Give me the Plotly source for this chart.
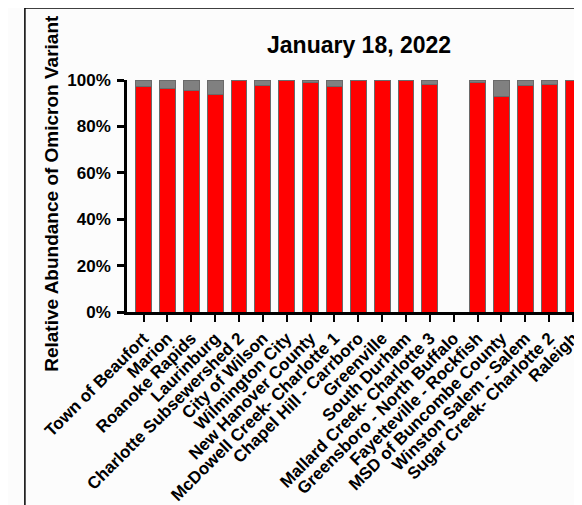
import plotly.graph_objects as go

sites = [
    "Town of Beaufort", "Marion", "Roanoke Rapids", "Laurinburg",
    "Charlotte Subsewershed 2", "City of Wilson", "Wilmington City",
    "New Hanover County", "McDowell Creek- Charlotte 1", "Chapel Hill - Carrboro",
    "Greenville", "South Durham", "Mallard Creek- Charlotte 3",
    "Greensboro - North Buffalo", "Fayetteville - Rockfish", "MSD of Buncombe County",
    "Winston Salem - Salem", "Sugar Creek- Charlotte 2", "Raleigh",
]
omicron = [97.0, 96.3, 95.5, 93.7, 100.0, 97.8, 100.0, 98.9, 97.0, 100.0,
           100.0, 100.0, 98.2, None, 98.9, 92.9, 97.8, 98.0, 100.0]
other = [None if v is None else round(100 - v, 1) for v in omicron]

yticks = [0, 20, 40, 60, 80, 100]
yticklabels = ["0%", "20%", "40%", "60%", "80%", "100%"]

FONT = "Liberation Sans, Arial, sans-serif"

fig = go.Figure()
fig.add_trace(go.Bar(x=sites, y=omicron, name="Omicron",
                     marker=dict(color="#ff0000", line=dict(color="#6a6a6a", width=1))))
fig.add_trace(go.Bar(x=sites, y=other, name="Other",
                     marker=dict(color="#808080", line=dict(color="#6a6a6a", width=1))))

fig.update_layout(
    barmode="stack",
    bargap=0.335,
    width=574, height=497,
    margin=dict(l=119, r=0, t=72, b=188),
    paper_bgcolor="#fcfcfc",
    plot_bgcolor="#fcfcfc",
    showlegend=False,
    font=dict(family=FONT, color="black"),
)
fig.update_xaxes(
    range=[-0.694, 18.21],
    showline=True, linecolor="black", linewidth=2.5,
    ticks="outside", ticklen=7, tickwidth=2, tickcolor="black",
    tickangle=-45,
    tickfont=dict(family=FONT, size=17, color="black", weight="bold"),
    showgrid=False, zeroline=False,
)
fig.update_yaxes(
    range=[0, 100],
    tickvals=yticks, ticktext=yticklabels,
    showline=True, linecolor="black", linewidth=2.5,
    ticks="outside", ticklen=7, tickwidth=2.5, tickcolor="black",
    ticklabelstandoff=3,
    tickfont=dict(family=FONT, size=17, color="black", weight="bold"),
    showgrid=False, zeroline=False,
)
fig.add_annotation(
    text="January 18, 2022", xref="paper", yref="paper",
    x=0.515, y=1.152, xanchor="center", yanchor="middle", showarrow=False,
    font=dict(family=FONT, size=23, color="black", weight="bold"),
)
fig.add_annotation(
    text="Relative Abundance of Omicron Variant", xref="paper", yref="paper",
    x=-0.168, y=0.5105, xanchor="center", yanchor="middle", showarrow=False,
    textangle=-90,
    font=dict(family=FONT, size=19, color="black", weight="bold"),
)
fig.add_shape(
    type="rect", xref="paper", yref="paper",
    x0=-0.2264, x1=1.5, y0=-1.5, y1=1.310,
    line=dict(color="black", width=1.5), fillcolor="rgba(0,0,0,0)",
)

fig.write_html("out.html")
